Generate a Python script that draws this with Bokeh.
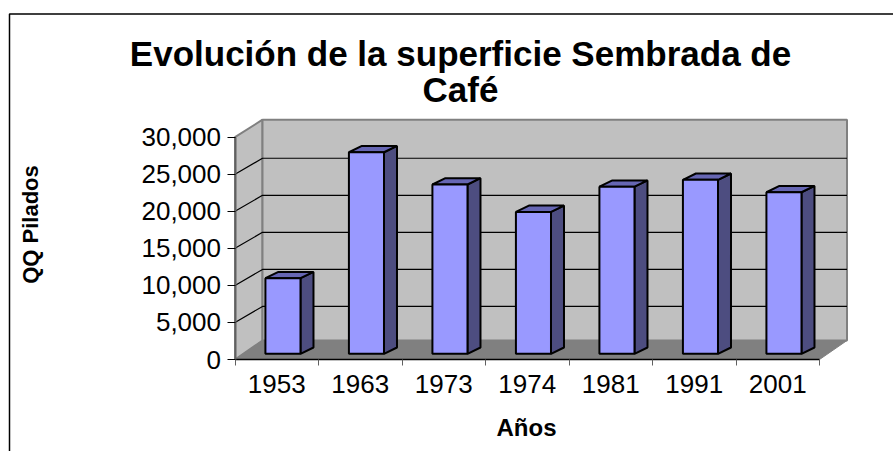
from bokeh.plotting import figure
from bokeh.embed import file_html
from bokeh.resources import INLINE
from bokeh.models import Range1d, FixedTicker, Label, NumeralTickFormatter

years = ["1953", "1963", "1973", "1974", "1981", "1991", "2001"]
values = [10200, 27200, 22850, 19150, 22550, 23480, 21800]
y_ticks = [0, 5000, 10000, 15000, 20000, 25000, 30000]
title_text = "Evolución de la superficie Sembrada de\nCafé"
x_label = "Años"
y_label = "QQ Pilados"

W, H = 893, 451
O_X, O_Y = 234.5, 359       # page px of the value/category origin
PX = (819 - 234.5) / 7      # px per category
PY = 222.3 / 30000          # px per value
DX = 27.5 / PX              # depth of the walls
DY_FLOOR = 19 / PY
DY_TOP = 17.5 / PY
DY_GRID = 16 / PY

FONT = "Liberation Sans"


def dx(px):
    return (px - O_X) / PX


def dy(py):
    return (O_Y - py) / PY


p = figure(width=W, height=H, output_backend="svg", toolbar_location=None,
           x_range=Range1d(dx(0), dx(W)), y_range=Range1d(dy(H), dy(0)),
           min_border=0, outline_line_color=None, background_fill_color=None,
           border_fill_color="white")
p.xgrid.visible = False
p.ygrid.visible = False

n = len(years)
# outer border: only its top and left sides are in view
p.line([dx(9), dx(9), dx(W)], [dy(H), dy(13.5), dy(13.5)], line_color="black", line_width=1.5)

# walls and floor
TOP = 30000 + DY_TOP
p.patch([0, DX, DX, 0], [0, DY_FLOOR, TOP, 30000], fill_color="#c0c0c0", line_color="#808080", line_width=2)
p.patch([DX, n + DX, n + DX, DX], [DY_FLOOR, DY_FLOOR, TOP, TOP], fill_color="#c0c0c0", line_color="#808080", line_width=2)
p.patch([0, n, n + DX, DX], [0, 0, DY_FLOOR, DY_FLOOR], fill_color="#808080", line_color="#808080", line_width=1)
# gridlines
gx, gy = [], []
for v in y_ticks[1:-1]:
    gx.append([0, DX, n + DX])
    gy.append([v, v + DY_GRID, v + DY_GRID])
p.multi_line(gx, gy, line_color="black", line_width=1.2)

# bars
BW = 0.42
SHIFT = 6.2 / PX
base = 5.7 / PY
sx = 13 / PX
sy = 6.3 / PY
x0 = [i + 0.5 - BW / 2 + SHIFT for i in range(n)]
x1 = [a + BW for a in x0]
tops = [base + v for v in values]
side_x = [[b, b + sx, b + sx, b] for b in x1]
side_y = [[base, base + sy, t + sy, t] for t in tops]
top_x = [[a, a + sx, b + sx, b] for a, b in zip(x0, x1)]
top_y = [[t, t + sy, t + sy, t] for t in tops]
front_x = [[a, b, b, a] for a, b in zip(x0, x1)]
front_y = [[base, base, t, t] for t in tops]
p.patches(side_x, side_y, fill_color="#4d4d80", line_color="black", line_width=2)
p.patches(top_x, top_y, fill_color="#6666b3", line_color="black", line_width=2)
p.patches(front_x, front_y, fill_color="#9999ff", line_color="black", line_width=2)

# axes
xa = p.xaxis[0]
xa.fixed_location = 0
xa.ticker = FixedTicker(ticks=[i + 0.5 for i in range(n)], minor_ticks=list(range(n + 1)))
xa.major_label_overrides = {i + 0.5: y for i, y in enumerate(years)}
xa.bounds = (0, n)
xa.major_tick_line_color = None
xa.minor_tick_in = 0
xa.minor_tick_out = 6
xa.minor_tick_line_color = "#606060"
xa.axis_line_color = "black"
xa.axis_line_width = 1.5
xa.major_label_text_font = FONT
xa.major_label_text_font_size = "26px"
xa.major_label_text_color = "black"
xa.major_label_standoff = 9

ya = p.yaxis[0]
ya.fixed_location = 0
ya.ticker = FixedTicker(ticks=y_ticks)
ya.bounds = (0, 30000)
ya.formatter = NumeralTickFormatter(format="0,0")
ya.major_tick_in = 0
ya.major_tick_out = 8
ya.minor_tick_line_color = None
ya.major_tick_line_color = "black"
ya.axis_line_color = "#606060"
ya.axis_line_width = 2
ya.major_label_text_font = FONT
ya.major_label_text_font_size = "26px"
ya.major_label_text_color = "black"
ya.major_label_standoff = 6


def lab(text, x, y, size, angle=0):
    p.add_layout(Label(x=dx(x), y=dy(y), text=text,
                       text_font=FONT, text_font_size=size, text_font_style="bold",
                       text_color="black", text_align="center", text_baseline="middle",
                       angle=angle))


for line, yy in zip(title_text.split("\n"), [53, 89]):
    lab(line, 460, yy, "35px")
lab(x_label, 526, 427, "24px")
lab(y_label, 30, 224, "22px", angle=1.5708)

open("out.html", "w").write(file_html(p, INLINE))
